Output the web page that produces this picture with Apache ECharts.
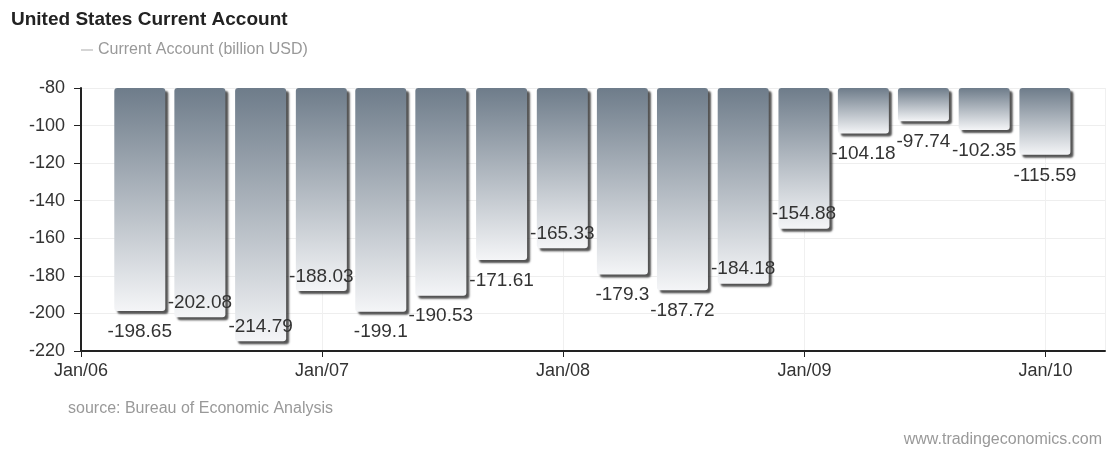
<!DOCTYPE html>
<html>
<head>
<meta charset="utf-8">
<script src="https://cdn.jsdelivr.net/npm/echarts@6/dist/echarts.min.js"></script>
<style>
html, body { margin: 0; padding: 0; background: #fff; }
#main { width: 1108px; height: 452px; }
</style>
</head>
<body>
<div id="main"></div>
<script>
// quarterly US current account, billion USD (end of quarter)
var quarters = ['2006-03-31', '2006-06-30', '2006-09-30', '2006-12-31',
                '2007-03-31', '2007-06-30', '2007-09-30', '2007-12-31',
                '2008-03-31', '2008-06-30', '2008-09-30', '2008-12-31',
                '2009-03-31', '2009-06-30', '2009-09-30', '2009-12-31'];
var values = [-198.65, -202.08, -214.79, -188.03,
              -199.1, -190.53, -171.61, -165.33,
              -179.3, -187.72, -184.18, -154.88,
              -104.18, -97.74, -102.35, -115.59];
var xStart = '2006-01-01';
var xEnd = '2010-04-01';
var yMin = -220, yMax = -80, yStep = 20;
var baseline = -80;
// bars whose value label sits inside the bar bottom instead of below it
var labelsInside = [1, 2, 3, 7, 10, 11];

var FONT = 'Liberation Sans, Arial, sans-serif';
var DAY = 86400000;
var BAR_W = 51;
var PLOT_W = 1108 - 81 - 3;
function ts(s) { return Date.parse(s + 'T00:00:00Z'); }

// echarts widens a time axis holding bars by one bar width;
// shrink the requested range so the final range is xStart..xEnd
var x0 = ts(xStart) - DAY / 24, x1 = ts(xEnd);
var shrink = (x1 - x0) * BAR_W / PLOT_W / 2;

var baseData = quarters.map(function (q) { return [ts(q), baseline]; });
var barData = quarters.map(function (q, i) {
    var inside = labelsInside.indexOf(i) >= 0;
    return {
        value: [ts(q), values[i] - baseline],
        label: { position: inside ? 'insideBottom' : 'bottom', distance: inside ? 5 : 11 }
    };
});

var myChart = echarts.init(document.getElementById('main'));
var option = {
    useUTC: true,
    animation: false,
    title: {
        text: 'United States Current Account',
        left: 6, top: 5,
        textStyle: { fontFamily: FONT, fontSize: 19, fontWeight: 'bold', color: '#222' }
    },
    legend: {
        left: 76, top: 37,
        data: ['Current Account (billion USD)'],
        icon: 'rect', itemWidth: 12, itemHeight: 1, itemGap: 8,
        itemStyle: { color: '#aaa' },
        textStyle: { fontFamily: FONT, fontSize: 16, color: '#999' }
    },
    grid: { left: 81, right: 3, top: 88, bottom: 101, containLabel: false },
    xAxis: {
        type: 'time',
        min: x0 + shrink, max: x1 - shrink,
        minInterval: 365 * DAY, maxInterval: 366 * DAY,
        axisLine: { lineStyle: { color: '#222', width: 2 } },
        axisTick: { show: true, length: 6, lineStyle: { color: '#222' } },
        axisLabel: {
            fontFamily: FONT, fontSize: 18, color: '#333', margin: 11,
            formatter: function (v) {
                var d = new Date(v);
                return 'Jan/' + String(d.getUTCFullYear()).slice(2);
            }
        },
        splitLine: { show: true, lineStyle: { color: '#f0f0f0' } }
    },
    yAxis: {
        type: 'value',
        min: yMin, max: yMax, interval: yStep,
        axisLine: { show: true, lineStyle: { color: '#222', width: 2 } },
        axisTick: { show: true, length: 7, lineStyle: { color: '#222' } },
        axisLabel: { fontFamily: FONT, fontSize: 18, color: '#333', margin: 16 },
        splitLine: { lineStyle: { color: '#eee' } }
    },
    series: [
        {
            name: 'base',
            type: 'bar',
            stack: 'ca',
            barWidth: BAR_W,
            silent: true,
            itemStyle: { color: 'transparent' },
            data: baseData
        },
        {
            name: 'Current Account (billion USD)',
            type: 'bar',
            stack: 'ca',
            barWidth: BAR_W,
            itemStyle: {
                color: new echarts.graphic.LinearGradient(0, 0, 0, 1, [
                    { offset: 0, color: '#6e7c8a' },
                    { offset: 1, color: '#f4f5f7' }
                ]),
                borderRadius: 3,
                shadowColor: 'rgba(40,40,40,0.8)',
                shadowBlur: 2,
                shadowOffsetX: 3,
                shadowOffsetY: 3
            },
            label: {
                show: true,
                fontFamily: FONT, fontSize: 19, color: '#333',
                formatter: function (p) { return String(values[p.dataIndex]); }
            },
            data: barData
        }
    ],
    graphic: [
        {
            type: 'text', left: 68, top: 401,
            style: { text: 'source: Bureau of Economic Analysis', fontFamily: FONT, fontSize: 16, fill: '#999' }
        },
        {
            type: 'text', right: 6, top: 432,
            style: { text: 'www.tradingeconomics.com', fontFamily: FONT, fontSize: 16, fill: '#999' }
        }
    ]
};

myChart.setOption(option);
</script>
</body>
</html>
